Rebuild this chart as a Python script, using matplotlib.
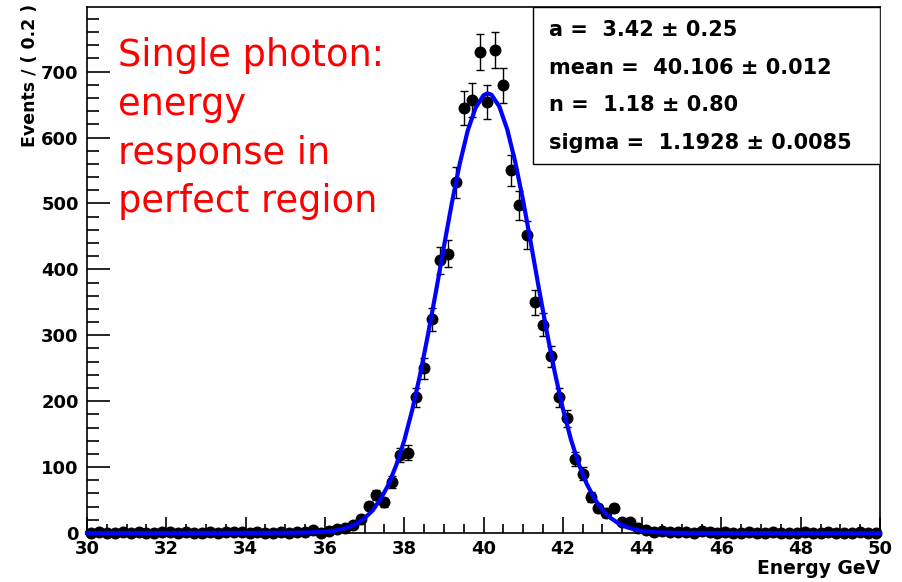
import numpy as np
import matplotlib
matplotlib.use('Agg')
import matplotlib.pyplot as plt
from matplotlib.ticker import MultipleLocator

### DATA

## Bin centres of the 0.2 GeV histogram, 30.1 ... 49.9
bin_centres = [round(30.1 + 0.2 * i, 1) for i in range(100)]

## Events per bin
counts = [
    # 30.1 - 35.3
    0, 1, 0, 0, 1, 0, 1, 0, 0, 1, 2, 0, 1, 0, 0, 1, 0, 1, 1, 2, 0, 1, 0, 0, 1, 0, 2,
    # 35.5 - 39.9
    1, 4, 0, 3, 6, 7, 12, 21, 41, 57, 47, 77, 118, 122, 206, 250, 324, 414, 424, 532,
    645, 657, 730,
    # 40.1 - 45.5
    654, 733, 679, 550, 497, 452, 350, 316, 268, 206, 174, 113, 90, 55, 38, 30, 38,
    16, 16, 7, 4, 2, 3, 1, 1, 1, 0, 3,
    # 45.7 - 49.9
    1, 0, 1, 0, 0, 1, 0, 0, 1, 0, 0, 0, 1, 0, 0, 1, 0, 0, 0, 1, 0, 0,
]

## Fitted curve, values
curve_x = [30.0, 32.0, 34.0, 35.0, 35.2, 35.4, 35.6, 35.8, 36.0, 36.2, 36.4, 36.6,
           36.8, 37.0, 37.2, 37.4, 37.6, 37.8, 38.0, 38.2, 38.4, 38.6, 38.8, 39.0,
           39.2, 39.4, 39.6, 39.8, 40.0, 40.1, 40.2, 40.4, 40.6, 40.8, 41.0, 41.2,
           41.4, 41.6, 41.8, 42.0, 42.2, 42.4, 42.6, 42.8, 43.0, 43.2, 43.4, 43.6,
           43.8, 44.0, 44.2, 44.4, 44.6, 44.8, 45.0, 46.0, 48.0, 50.0]
curve_y = [0.1, 0.1, 0.2, 0.4, 0.5, 0.6, 0.9, 1.2, 1.8, 3.1, 5.4, 8.9,
           14.3, 22.5, 34, 51, 73, 103, 140, 186, 240, 301, 366, 434,
           500, 560, 610, 645, 664, 667, 665, 647, 612, 563, 504, 438,
           370, 304, 243, 189, 143, 105, 75, 52, 35, 23, 14.7, 9.1,
           5.5, 3.2, 1.9, 1.0, 0.6, 0.3, 0.15, 0.0, 0.0, 0.0]

## Fit parameters shown in the box
par_names = ['a', 'mean', 'n', 'sigma']
par_values = ['3.42', '40.106', '1.18', '1.1928']
par_errors = ['0.25', '0.012', '0.80', '0.0085']

## Label text
title_lines = ['Single photon:', 'energy', 'response in', 'perfect region']
x_title = 'Energy GeV'
y_title = 'Events / ( 0.2 )'


### PLOT
plt.rcParams['font.family'] = ['DejaVu Sans']

fig = plt.figure(figsize=(9.02, 5.82), dpi=100)
ax = fig.add_axes((87 / 902, 49 / 582, 793 / 902, 526 / 582))

## Data points with Poisson errors
err = np.sqrt(np.array(counts, dtype=float))
ax.errorbar(bin_centres, counts, yerr=err, fmt='o', color='black', ms=7.6,
            elinewidth=1.0, capsize=2.8, capthick=1.0, zorder=3, clip_on=False)

## Fit curve on top
ax.plot(curve_x, curve_y, color='#0000ff', lw=3.0, zorder=4, clip_on=False,
        solid_joinstyle='round')

## Axes ranges and ticks
ax.set_xlim(30, 50)
ax.set_ylim(0, 798)
ax.xaxis.set_major_locator(MultipleLocator(2))
ax.xaxis.set_minor_locator(MultipleLocator(0.5))
ax.yaxis.set_major_locator(MultipleLocator(100))
ax.yaxis.set_minor_locator(MultipleLocator(20))
ax.tick_params(axis='x', which='major', direction='in', length=11.5, width=1.2,
               pad=5, labelsize=13, top=False)
ax.tick_params(axis='x', which='minor', direction='in', length=6.5, width=1.2, top=False)
ax.tick_params(axis='y', which='major', direction='in', length=16.5, width=1.2,
               pad=6, labelsize=13, right=False)
ax.tick_params(axis='y', which='minor', direction='in', length=8.5, width=1.2, right=False)
for lab in ax.get_xticklabels() + ax.get_yticklabels():
    lab.set_fontweight('bold')
for sp in ax.spines.values():
    sp.set_linewidth(1.2)

## Axis titles
ax.text(1.0, -0.068, x_title, transform=ax.transAxes, ha='right', va='center',
        fontsize=13.5, fontweight='bold')
ax.text(-0.072, 1.005, y_title, transform=ax.transAxes, ha='center', va='top',
        rotation=90, fontsize=12.5, fontweight='bold')

## Red label
for i, line in enumerate(title_lines):
    ax.text(0.039, 0.887 - 0.0925 * i, line, transform=ax.transAxes, ha='left',
            va='baseline', fontsize=26.5, color='#ff0000')

## Parameter box
box = plt.Rectangle((0.5624, 0.7015), 0.4376, 0.2985, transform=ax.transAxes,
                    facecolor='white', edgecolor='black', lw=1.0, zorder=5)
ax.add_patch(box)
line_y = [0.956, 0.884, 0.814, 0.741]
for name, val, e, yy in zip(par_names, par_values, par_errors, line_y):
    ax.text(0.5826, yy, '{} =  {} \u00b1 {}'.format(name, val, e), transform=ax.transAxes,
            ha='left', va='center', fontsize=15, fontweight='bold', zorder=6)

fig.savefig('out.png', dpi=100)
